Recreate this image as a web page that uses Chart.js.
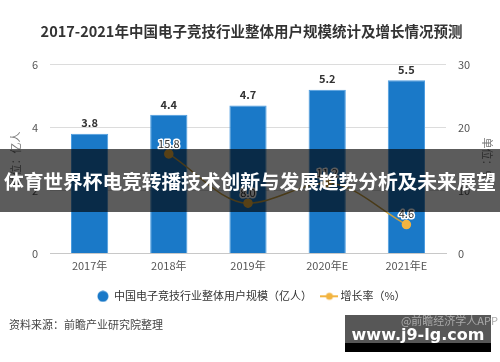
<!DOCTYPE html>
<html>
<head>
<meta charset="utf-8">
<script src="https://cdn.jsdelivr.net/npm/chart.js@4/dist/chart.umd.min.js"></script>
<style>
  html,body{margin:0;padding:0;background:#fff;}
  #wrap{position:relative;width:500px;height:362px;overflow:hidden;font-family:"Noto Sans CJK SC","Noto Sans",sans-serif;}
  #c{position:absolute;left:0;top:0;}
  #banner{position:absolute;left:0;top:149px;width:500px;height:63px;background:rgba(0,0,0,0.64);color:#fff;font-weight:bold;font-size:19.8px;line-height:63px;text-align:center;white-space:nowrap;letter-spacing:-0.1px;}
  #wm{position:absolute;left:345px;top:315px;width:146px;height:28px;background:rgba(40,40,40,0.78);}
  #app{position:absolute;right:2px;top:312px;font-size:11px;color:#aaa;white-space:nowrap;}
  #wmt{position:absolute;left:345px;top:326px;width:146px;height:17px;color:#fff;font-family:"DejaVu Sans",sans-serif;font-weight:bold;font-size:16px;line-height:17px;text-align:center;}
  #wmb{position:absolute;left:345px;top:343px;width:146px;height:9px;background:#000;}
</style>
</head>
<body>
<div id="wrap">
  <canvas id="c" width="500" height="362"></canvas>
  <div id="banner">体育世界杯电竞转播技术创新与发展趋势分析及未来展望</div>
  <div id="wm"></div>
  <div id="app">@前瞻经济学人APP</div>
  <div id="wmt">www.j9-lg.com</div>
  <div id="wmb"></div>
</div>
<script>
const titleText = '2017-2021年中国电子竞技行业整体用户规模统计及增长情况预测';
const categories = ['2017年', '2018年', '2019年', '2020年E', '2021年E'];
const userScale = [3.8, 4.4, 4.7, 5.2, 5.5];
const growthRate = [null, 15.8, 8.0, 11.2, 4.6];
const leftTicks = [0, 2, 4, 6];
const rightTicks = [0, 10, 20, 30];
const seriesNames = ['中国电子竞技行业整体用户规模（亿人）', '增长率（%）'];
const sourceText = '资料来源：前瞻产业研究院整理';

const FONT = '"Noto Sans CJK SC","Noto Sans",sans-serif';
const BAR_COLOR = '#1a79c8';
const LINE_COLOR = '#c9a043';
const POINT_COLOR = '#f2b440';

function lineIcon() {
  const cv = document.createElement('canvas');
  cv.width = 18; cv.height = 10;
  const g = cv.getContext('2d');
  g.strokeStyle = POINT_COLOR; g.lineWidth = 2;
  g.beginPath(); g.moveTo(0, 5); g.lineTo(18, 5); g.stroke();
  g.fillStyle = POINT_COLOR;
  g.beginPath(); g.arc(9, 5, 3.5, 0, Math.PI * 2); g.fill();
  return cv;
}
function dotIcon() {
  const cv = document.createElement('canvas');
  cv.width = 12; cv.height = 12;
  const g = cv.getContext('2d');
  g.fillStyle = BAR_COLOR;
  g.beginPath(); g.arc(6, 6, 5.5, 0, Math.PI * 2); g.fill();
  return cv;
}

const valueLabels = {
  id: 'valueLabels',
  afterDatasetsDraw(chart) {
    const ctx = chart.ctx;
    ctx.save();
    ctx.textAlign = 'center';
    ctx.textBaseline = 'bottom';
    chart.data.datasets.forEach((ds, di) => {
      const meta = chart.getDatasetMeta(di);
      meta.data.forEach((el, i) => {
        const v = ds.data[i];
        if (v === null || v === undefined) return;
        const txt = v.toFixed(1);
        if (ds.type === 'bar') {
          ctx.font = 'bold 11px ' + FONT;
          ctx.fillStyle = '#333';
          ctx.fillText(txt, el.x, el.y - 5);
        } else {
          ctx.font = '11px ' + FONT;
          ctx.lineWidth = 3;
          ctx.strokeStyle = '#fff';
          ctx.lineJoin = 'round';
          ctx.strokeText(txt, el.x, el.y - 5);
          ctx.fillStyle = '#333';
          ctx.fillText(txt, el.x, el.y - 5);
        }
      });
    });
    ctx.restore();
  }
};

new Chart(document.getElementById('c'), {
  data: {
    labels: categories,
    datasets: [
      {
        type: 'bar',
        label: seriesNames[0],
        data: userScale,
        yAxisID: 'y',
        backgroundColor: BAR_COLOR,
        borderColor: '#4d9de0',
        borderWidth: 1,
        categoryPercentage: 1,
        barPercentage: 0.47,
        order: 2
      },
      {
        type: 'line',
        label: seriesNames[1],
        data: growthRate,
        yAxisID: 'y1',
        borderColor: LINE_COLOR,
        borderWidth: 1.5,
        backgroundColor: POINT_COLOR,
        pointBackgroundColor: POINT_COLOR,
        pointBorderColor: POINT_COLOR,
        pointRadius: 4,
        tension: 0.4,
        cubicInterpolationMode: 'monotone',
        order: 1
      }
    ]
  },
  options: {
    responsive: false,
    animation: false,
    devicePixelRatio: 1,
    layout: { padding: { left: 9, right: 6, top: 0, bottom: 13 } },
    plugins: {
      tooltip: { enabled: false },
      title: {
        display: true,
        text: titleText,
        color: '#333',
        font: { family: FONT, size: 14.5, weight: 'bold' },
        padding: { top: 23, bottom: 24 }
      },
      subtitle: {
        display: true,
        position: 'bottom',
        align: 'start',
        text: sourceText,
        color: '#444',
        font: { family: FONT, size: 11 },
        padding: { top: 6, bottom: 18 }
      },
      legend: {
        position: 'bottom',
        labels: {
          usePointStyle: true,
          color: '#333',
          font: { family: FONT, size: 11 },
          padding: 12,
          generateLabels(chart) {
            return [
              { text: seriesNames[0], pointStyle: dotIcon(), datasetIndex: 0, fontColor: '#333', lineWidth: 0, strokeStyle: 'transparent', fillStyle: BAR_COLOR },
              { text: seriesNames[1], pointStyle: lineIcon(), datasetIndex: 1, fontColor: '#333', lineWidth: 0, strokeStyle: 'transparent', fillStyle: POINT_COLOR }
            ];
          }
        }
      }
    },
    scales: {
      x: {
        grid: { display: false, drawTicks: false },
        border: { display: true, color: '#c8c8c8' },
        ticks: { color: '#555', font: { family: FONT, size: 11 }, padding: 6 }
      },
      y: {
        position: 'left',
        min: 0, max: 6,
        afterBuildTicks(scale) { scale.ticks = leftTicks.map(v => ({ value: v })); },
        afterFit(scale) { scale.width = 41; },
        grid: { color: '#dcdcdc', drawTicks: false },
        border: { display: false },
        ticks: { color: '#555', font: { family: FONT, size: 11 }, padding: 12 },
        title: { display: true, text: '单位：亿人', color: '#777', font: { family: FONT, size: 11 }, padding: 0 }
      },
      y1: {
        position: 'right',
        min: 0, max: 30,
        afterBuildTicks(scale) { scale.ticks = rightTicks.map(v => ({ value: v })); },
        afterFit(scale) { scale.width = 48; },
        grid: { display: false, drawTicks: false },
        border: { display: false },
        ticks: { color: '#555', font: { family: FONT, size: 11 }, padding: 12 },
        title: { display: true, text: '单位：%', color: '#777', font: { family: FONT, size: 11 }, padding: 0 }
      }
    }
  },
  plugins: [valueLabels]
});
</script>
</body>
</html>
